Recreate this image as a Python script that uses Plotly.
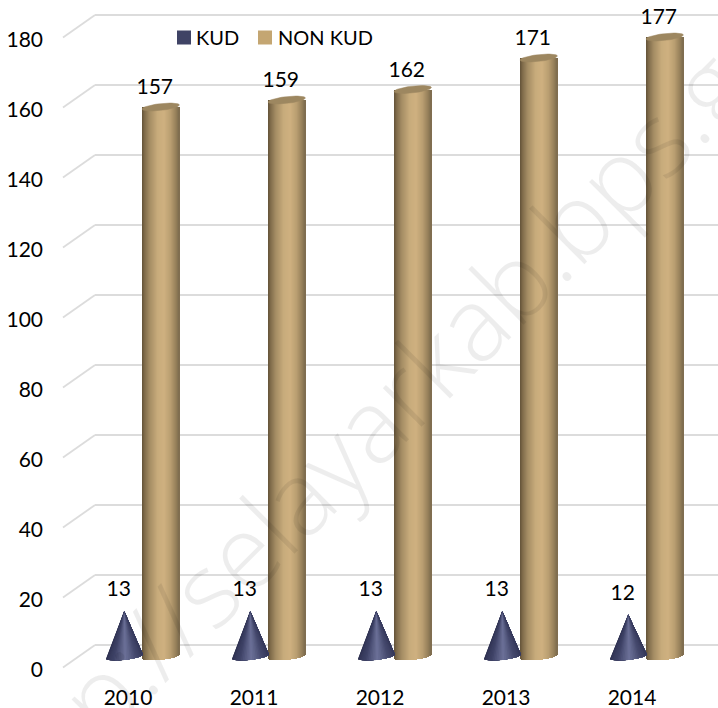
import plotly.graph_objects as go
import numpy as np

years = [2010, 2011, 2012, 2013, 2014]
kud = [13, 13, 13, 13, 12]
non_kud = [157, 159, 162, 171, 177]
y_ticks = [0, 20, 40, 60, 80, 100, 120, 140, 160, 180]

# --- layout geometry
W, H = 718, 708
ML, MB = 44, 28
PX_PER_YEAR = 126.0
PX_PER_UNIT = 3.5
Y0_PX = 656.5        # pixel row of value 0 in the plane of the bars
TICK0_PX = 669.5     # pixel row of the "0" tick label
FRONT0_PX = 667.5    # pixel row of value 0 at the front of the floor
BACK0_PX = 645.0     # pixel row of value 0 on the back wall
X2010_PX = 128.0
BAR_OFF = 0.26
CONE_OFF = -0.03
RX = 18.7 / PX_PER_YEAR
RY = 3.4 / PX_PER_UNIT
TILT = 2.0 / PX_PER_UNIT
BACK_X = 2010 + (95 - X2010_PX) / PX_PER_YEAR
FRONT_X = 2010 + (63 - X2010_PX) / PX_PER_YEAR
x_range = [2010 - (X2010_PX - ML) / PX_PER_YEAR, 2010 + (W - X2010_PX) / PX_PER_YEAR]
plot_bottom = H - MB
y_range = [-(plot_bottom - Y0_PX) / PX_PER_UNIT, Y0_PX / PX_PER_UNIT]
y2_range = [-(plot_bottom - TICK0_PX) / PX_PER_UNIT, TICK0_PX / PX_PER_UNIT]
back_shift = (Y0_PX - BACK0_PX) / PX_PER_UNIT
front_shift = (Y0_PX - FRONT0_PX) / PX_PER_UNIT


def shade(stops, t):
    ps = [s[0] for s in stops]
    cs = np.array([s[1] for s in stops], dtype=float)
    return "rgb(%d,%d,%d)" % tuple(np.interp(t, ps, cs[:, i]) for i in range(3))


BAR_STOPS = [(0, (104, 87, 60)), (0.06, (128, 108, 75)), (0.2, (165, 141, 100)), (0.42, (200, 172, 124)),
             (0.6, (207, 177, 128)), (0.78, (185, 158, 113)), (0.93, (150, 128, 90)), (1, (128, 110, 80))]
CONE_STOPS = [(0, (44, 47, 78)), (0.3, (62, 66, 102)), (0.52, (108, 113, 152)),
              (0.72, (70, 74, 110)), (1, (48, 51, 84))]

fig = go.Figure()

# cylinders: vertical strips of shade, each one a bar
N = 37
edges = np.linspace(-1, 1, N + 1)
for k in range(N):
    mid = (edges[k] + edges[k + 1]) / 2
    base = -RY * np.sqrt(1 - mid ** 2) + TILT * mid
    fig.add_trace(go.Bar(
        x=[yr + BAR_OFF + mid * RX for yr in years],
        y=[v - base for v in non_kud],
        base=[base] * len(years),
        width=2 * RX / N * 1.02,
        marker=dict(color=shade(BAR_STOPS, k / (N - 1)), line=dict(width=0)),
        showlegend=False, hoverinfo="skip",
    ))

# cylinder tops
tt = np.linspace(0, 2 * np.pi, 48)
tx, ty = [], []
for yr, v in zip(years, non_kud):
    tx += [yr + BAR_OFF + RX * c for c in np.cos(tt)] + [None]
    ty += [v + RY * s + TILT * c for s, c in zip(np.sin(tt), np.cos(tt))] + [None]
fig.add_trace(go.Scatter(x=tx, y=ty, mode="lines", fill="toself", fillcolor="#9d8760",
                         line=dict(color="#9d8760", width=0.5), showlegend=False, hoverinfo="skip"))

# cones: painted left to right, each shade covering the rest of the base
M = 30
angles = np.linspace(np.pi, 0, M + 1)
for k in range(M):
    col = shade(CONE_STOPS, k / (M - 1))
    cx, cy = [], []
    for yr, v in zip(years, kud):
        x0 = yr + CONE_OFF
        pts = [(x0, v)]
        for a in angles[k:]:
            pts.append((x0 + RX * np.cos(a), -RY * np.sin(a) + TILT * np.cos(a)))
        pts.append((x0, v))
        cx += [p[0] for p in pts] + [None]
        cy += [p[1] for p in pts] + [None]
    fig.add_trace(go.Scatter(x=cx, y=cy, mode="lines", fill="toself", fillcolor=col,
                             line=dict(color=col, width=0), showlegend=False, hoverinfo="skip"))

# value labels
FONT_SIZE = 21
FAMILY = "Lato, Carlito, sans-serif"
LABEL_FONT = dict(family=FAMILY, size=FONT_SIZE, color="#000000")
fig.add_trace(go.Scatter(x=[yr + BAR_OFF - 6 / PX_PER_YEAR for yr in years], y=[v + 5.2 for v in non_kud],
                         mode="text", text=[str(v) for v in non_kud], textposition="middle center",
                         textfont=LABEL_FONT, showlegend=False, hoverinfo="skip"))
fig.add_trace(go.Scatter(x=[yr + CONE_OFF - 5.5 / PX_PER_YEAR for yr in years], y=[v + 5.7 for v in kud],
                         mode="text", text=[str(v) for v in kud], textposition="middle center",
                         textfont=LABEL_FONT, showlegend=False, hoverinfo="skip"))

# legend entries
fig.add_trace(go.Scatter(x=[None], y=[None], mode="markers", name="KUD", legend="legend",
                         marker=dict(symbol="square", size=14, color="#3f4365", angle=90, standoff=8)))
fig.add_trace(go.Scatter(x=[None], y=[None], mode="markers", name="NON KUD", legend="legend2",
                         marker=dict(symbol="square", size=14, color="#c4a672", angle=90, standoff=7)))

# the slanted floor and wall gridlines
shapes = []
GRID = dict(color="#dcdcdc", width=1.8)
for t in y_ticks:
    shapes.append(dict(type="line", xref="x", yref="y", layer="below", x0=BACK_X, x1=x_range[1],
                       y0=t + back_shift, y1=t + back_shift, line=GRID))
    shapes.append(dict(type="line", xref="x", yref="y", layer="below", x0=FRONT_X, x1=BACK_X,
                       y0=t + front_shift, y1=t + back_shift, line=GRID))

LEGEND_Y = 1 - 18 / (H - MB)
fig.update_layout(
    width=W, height=H,
    margin=dict(l=ML, r=0, t=0, b=MB, pad=0),
    paper_bgcolor="white", plot_bgcolor="white",
    barmode="overlay", bargap=0, showlegend=True,
    font=dict(family=FAMILY, size=FONT_SIZE, color="#000000"),
    shapes=shapes,
    xaxis=dict(range=x_range, tickmode="array", tickvals=years, ticktext=[str(y) for y in years],
               showgrid=False, zeroline=False, showline=False, ticks="", ticklabelstandoff=3,
               tickfont=dict(size=FONT_SIZE, color="#000000")),
    yaxis=dict(range=y_range, visible=False, fixedrange=True),
    yaxis2=dict(range=y2_range, overlaying="y", side="left", anchor="x", tickmode="array", tickvals=y_ticks,
                showgrid=False, zeroline=False, showline=False, ticks="",
                tickfont=dict(size=FONT_SIZE, color="#000000")),
    legend=dict(x=(156 - ML) / (W - ML), y=LEGEND_Y, xanchor="left", yanchor="top",
                bgcolor="rgba(0,0,0,0)", font=dict(size=20), itemwidth=30),
    legend2=dict(x=(238 - ML) / (W - ML), y=LEGEND_Y, xanchor="left", yanchor="top",
                 bgcolor="rgba(0,0,0,0)", font=dict(size=20), itemwidth=30),
    annotations=[dict(text="http://selayarkab.bps.go.id", x=0.550, y=0.446, xref="paper", yref="paper",
                      showarrow=False, textangle=-45, font=dict(size=103, color="rgba(0,0,0,0.07)",
                                                                 family="Open Sans, sans-serif", weight=300))],
)
# dummy trace so the front-plane axis with the tick labels is drawn
fig.add_trace(go.Scatter(x=[None], y=[None], yaxis="y2", showlegend=False, hoverinfo="skip"))
fig.write_html("out.html", config=dict(displayModeBar=False), post_script="document.body.style.margin='0';")
